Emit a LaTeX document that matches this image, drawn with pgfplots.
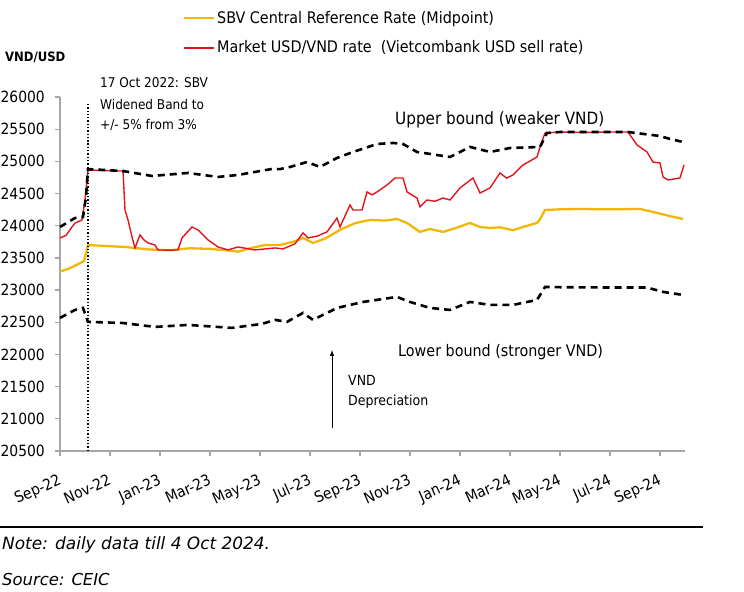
\documentclass[border=0pt]{standalone}
\usepackage{pgfplots}
\pgfplotsset{compat=1.18}
\usepackage{fontspec}
\setmainfont{DejaVu Sans Condensed}
\newfontfamily\notefont{DejaVu Sans}
\definecolor{midc}{HTML}{F2B705}
\definecolor{mktc}{HTML}{E3141B}
\definecolor{axc}{HTML}{A6A6A6}
\newcommand{\fs}{\fontsize{16}{19}\selectfont}
\newcommand{\ft}{\fontsize{15.5}{18}\selectfont}
\newcommand{\fa}{\fontsize{13.5}{16}\selectfont}
\begin{document}
\begin{tikzpicture}[x=1bp,y=1bp]
\useasboundingbox (0,0) rectangle (744,-592);
\begin{axis}[
  at={(60bp,-451bp)}, anchor=south west,
  scale only axis, width=625bp, height=354bp,
  xmin=0, xmax=25, ymin=20500, ymax=26000,
  axis x line*=bottom, axis y line*=left,
  axis line style={axc, line width=1.3bp, -},
  tick align=outside, tick style={axc, line width=1.3bp}, major tick length=5bp,
  ytick={20500,21000,...,26000},
  scaled y ticks=false,
  yticklabel={\pgfmathprintnumber[fixed,precision=0,1000 sep={}]{\tick}},
  xtick={0,2,...,24},
  xticklabels={Sep-22,Nov-22,Jan-23,Mar-23,May-23,Jul-23,Sep-23,Nov-23,Jan-24,Mar-24,May-24,Jul-24,Sep-24},
  /pgf/number format/assume math mode=true,
  ticklabel style={font=\ft, text=black},
  xticklabel style={anchor=north east, inner sep=1bp, xshift=-2bp, yshift=-16bp, rotate=24},
  yticklabel style={inner sep=2bp, xshift=-8bp},
  clip=false,
  legend style={at={(axis description cs:0.1968,1.2486)}, anchor=north west, draw=none, fill=none, font=\fs, row sep=12bp, inner sep=0pt, cells={anchor=west}},
]
\addlegendimage{legend image code/.code={\draw[midc, line width=2bp] (0bp,0bp) -- (30bp,0bp);}}
\addlegendentry{SBV Central Reference Rate (Midpoint)}
\addlegendimage{legend image code/.code={\draw[mktc, line width=2bp] (0bp,0bp) -- (30bp,0bp);}}
\addlegendentry{Market USD/VND rate \ (Vietcombank USD sell rate)}
\addplot[midc, line width=2.3bp, forget plot] coordinates {
(0.00,23287)(0.40,23340)(0.80,23420)(0.96,23450)(1.12,23700)(1.60,23690)(2.60,23670)(3.60,23630)(4.40,23620)(5.20,23650)(6.00,23640)(6.60,23620)(7.12,23597)(7.60,23650)(8.20,23700)(8.80,23700)(9.40,23760)(9.72,23810)(10.12,23733)(10.60,23800)(11.20,23935)(11.80,24040)(12.40,24090)(13.00,24080)(13.48,24105)(13.88,24043)(14.40,23904)(14.80,23950)(15.32,23904)(15.80,23960)(16.40,24043)(16.80,23980)(17.20,23966)(17.60,23975)(18.12,23930)(18.60,23990)(19.08,24043)(19.20,24100)(19.40,24245)(20.00,24255)(20.80,24260)(22.00,24255)(23.20,24260)(23.72,24214)(24.40,24150)(24.92,24105)
};
\addplot[mktc, line width=1.4bp, forget plot] coordinates {
(0.00,23810)(0.24,23850)(0.48,23981)(0.60,24040)(0.88,24090)(1.00,24400)(1.12,24866)(1.60,24860)(2.40,24850)(2.52,24850)(2.60,24245)(2.72,24090)(2.88,23826)(3.00,23655)(3.20,23857)(3.36,23780)(3.52,23733)(3.80,23700)(3.92,23624)(4.40,23620)(4.72,23624)(4.88,23810)(5.28,23981)(5.52,23935)(5.92,23780)(6.32,23670)(6.72,23624)(7.12,23670)(7.80,23624)(8.60,23655)(8.92,23640)(9.40,23720)(9.72,23888)(9.92,23810)(10.30,23840)(10.68,23904)(11.08,24120)(11.20,23981)(11.60,24323)(11.72,24245)(12.08,24245)(12.28,24525)(12.48,24480)(12.68,24525)(13.08,24633)(13.40,24742)(13.72,24742)(13.88,24525)(14.28,24431)(14.40,24292)(14.68,24400)(15.00,24380)(15.32,24431)(15.60,24400)(16.00,24587)(16.52,24742)(16.80,24509)(17.20,24587)(17.60,24820)(17.86,24740)(18.12,24789)(18.52,24944)(19.08,25068)(19.20,25224)(19.40,25441)(20.00,25456)(21.00,25450)(22.00,25456)(22.72,25456)(23.08,25255)(23.48,25146)(23.72,24990)(24.00,24975)(24.12,24758)(24.32,24711)(24.80,24742)(24.96,24944)
};
\addplot[black, line width=2.6bp, dash pattern=on 7bp off 5bp, forget plot] coordinates {
(0.00,23981)(0.60,24120)(0.92,24136)(1.04,24450)(1.12,24880)(2.52,24850)(3.68,24773)(5.12,24820)(6.32,24758)(7.12,24789)(8.48,24882)(8.80,24880)(9.20,24913)(9.88,24990)(10.40,24913)(11.08,25053)(11.72,25146)(12.68,25270)(13.32,25286)(13.72,25270)(14.28,25146)(15.08,25099)(15.60,25068)(16.40,25224)(17.20,25146)(18.00,25208)(19.20,25224)(19.48,25441)(20.00,25456)(22.72,25456)(24.00,25394)(24.40,25348)(24.92,25301)
};
\addplot[black, line width=2.6bp, dash pattern=on 7bp off 5bp, forget plot] coordinates {
(0.00,22568)(0.60,22692)(0.92,22723)(1.12,22506)(2.48,22490)(3.80,22428)(5.12,22459)(6.88,22413)(8.08,22475)(8.60,22537)(9.08,22506)(9.72,22646)(10.12,22537)(11.08,22723)(12.12,22816)(13.48,22894)(14.00,22816)(14.80,22723)(15.60,22692)(16.40,22816)(17.20,22770)(18.12,22770)(19.08,22847)(19.40,23049)(20.00,23045)(22.00,23040)(23.48,23040)(24.12,22972)(24.92,22925)
};
\draw[black, dotted, line width=1.3bp] (axis cs:1.12,20500) -- (axis cs:1.12,25920);
\end{axis}
\node[anchor=west, inner sep=0pt, font=\fontsize{13}{15}\selectfont\bfseries] at (5,-57) {VND/USD};
\node[anchor=west, inner sep=0pt, font=\fa] at (100,-83) {17 Oct 2022: SBV};
\node[anchor=west, inner sep=0pt, font=\fa] at (100,-104) {Widened Band to};
\node[anchor=west, inner sep=0pt, font=\fa] at (100,-125) {+/- 5\% from 3\%};
\node[anchor=west, inner sep=0pt, font=\fontsize{17}{20}\selectfont] at (395,-120) {Upper bound (weaker VND)};
\node[anchor=west, inner sep=0pt, font=\fs] at (398,-352) {Lower bound (stronger VND)};
\node[anchor=west, inner sep=0pt, font=\fontsize{14}{17}\selectfont] at (348,-380) {VND};
\node[anchor=west, inner sep=0pt, font=\fontsize{14}{17}\selectfont] at (348,-402) {Depreciation};
\draw[-latex, line width=1bp] (332,-428) -- (332,-350);
\draw[line width=2bp] (0,-527) -- (703,-527);
\node[anchor=west, inner sep=0pt, font=\notefont\fontsize{17}{20}\selectfont\itshape] at (2,-545) {Note: daily data till 4 Oct 2024.};
\node[anchor=west, inner sep=0pt, font=\notefont\fontsize{16.5}{19}\selectfont\itshape] at (2,-580) {Source: CEIC};
\end{tikzpicture}
\end{document}
